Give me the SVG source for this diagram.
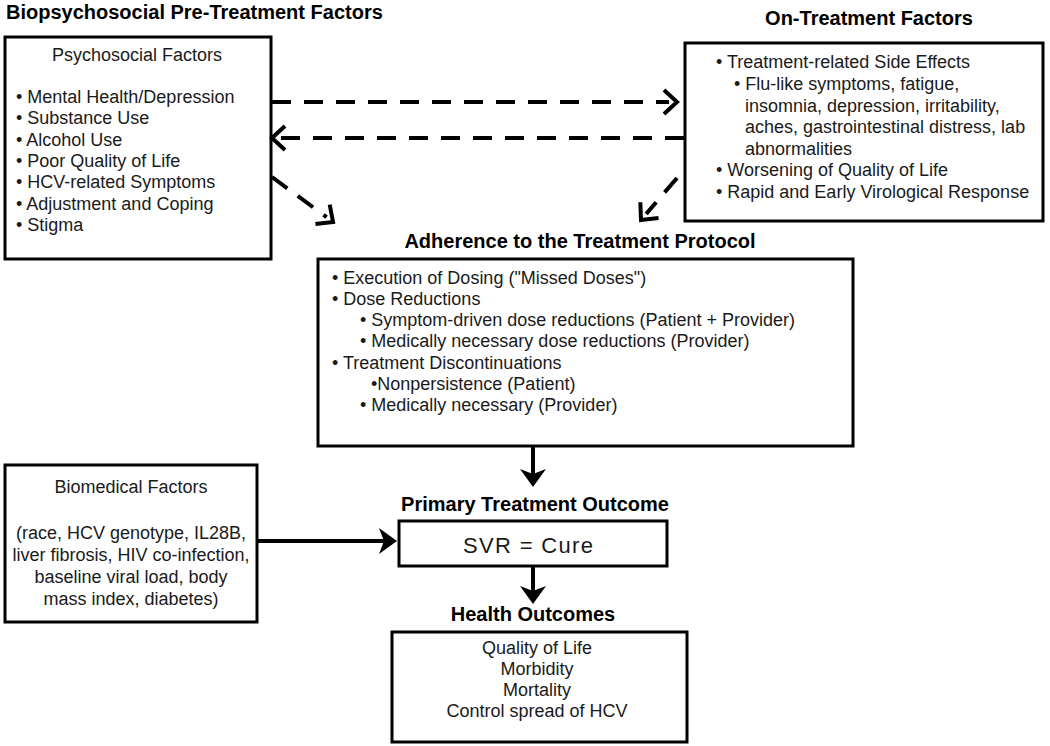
<svg xmlns="http://www.w3.org/2000/svg" width="1050" height="746" viewBox="0 0 1050 746">
<style>
.box{fill:#fff;stroke:#000;stroke-width:3}
.t{font-family:"Liberation Sans",Arial,sans-serif;font-size:18px;fill:#1a1a1a}
.h{font-family:"Liberation Sans",Arial,sans-serif;font-size:20px;font-weight:bold;fill:#000}
.c{text-anchor:middle}
.dash{stroke:#000;stroke-width:4;fill:none;stroke-dasharray:19 13}
.solid{stroke:#000;stroke-width:4;fill:none}
</style>
<defs>
<marker id="open" markerUnits="userSpaceOnUse" viewBox="-10 -16 22 32" markerWidth="22" markerHeight="32" refX="0" refY="0" orient="auto">
<path d="M-5,-12 L8,0 L-5,12" fill="none" stroke="#000" stroke-width="4"/>
</marker>
<marker id="solidhead" markerUnits="userSpaceOnUse" viewBox="-14 -16 26 32" markerWidth="26" markerHeight="32" refX="0" refY="0" orient="auto">
<path d="M-10,-13 L8,0 L-10,13 L-5,0 Z" fill="#000"/>
</marker>
</defs>
<rect width="1050" height="746" fill="#fff"/>

<text class="h" x="6" y="19">Biopsychosocial Pre-Treatment Factors</text>
<text class="h c" x="869" y="25">On-Treatment Factors</text>

<g id="psychosocial">
<rect class="box" x="5" y="37" width="266" height="222"/>
<text class="t c" x="137" y="61">Psychosocial Factors</text>
<text class="t" x="16" y="103">• Mental Health/Depression</text>
<text class="t" x="16" y="124">• Substance Use</text>
<text class="t" x="16" y="146">• Alcohol Use</text>
<text class="t" x="16" y="167">• Poor Quality of Life</text>
<text class="t" x="16" y="188">• HCV-related Symptoms</text>
<text class="t" x="16" y="210">• Adjustment and Coping</text>
<text class="t" x="16" y="231">• Stigma</text>
</g>

<g id="on-treatment">
<rect class="box" x="685" y="43" width="358" height="178"/>
<text class="t" x="716" y="68">• Treatment-related Side Effects</text>
<text class="t" x="734" y="90">• Flu-like symptoms, fatigue,</text>
<text class="t" x="745" y="112">insomnia, depression, irritability,</text>
<text class="t" x="745" y="133">aches, gastrointestinal distress, lab</text>
<text class="t" x="745" y="155">abnormalities</text>
<text class="t" x="716" y="176">• Worsening of Quality of Life</text>
<text class="t" x="716" y="198">• Rapid and Early Virological Response</text>
</g>

<g id="adherence">
<text class="h c" x="580" y="248">Adherence to the Treatment Protocol</text>
<rect class="box" x="318" y="259" width="535" height="187"/>
<text class="t" x="332" y="284">• Execution of Dosing ("Missed Doses")</text>
<text class="t" x="332" y="305">• Dose Reductions</text>
<text class="t" x="360" y="326">• Symptom-driven dose reductions (Patient + Provider)</text>
<text class="t" x="360" y="347">• Medically necessary dose reductions (Provider)</text>
<text class="t" x="332" y="369">• Treatment Discontinuations</text>
<text class="t" x="371" y="390">•Nonpersistence (Patient)</text>
<text class="t" x="360" y="411">• Medically necessary (Provider)</text>
</g>

<g id="biomedical">
<rect class="box" x="5" y="465" width="252" height="157"/>
<text class="t c" x="131" y="493">Biomedical Factors</text>
<text class="t c" x="131" y="539">(race, HCV genotype, IL28B,</text>
<text class="t c" x="131" y="561">liver fibrosis, HIV co-infection,</text>
<text class="t c" x="131" y="583">baseline viral load, body</text>
<text class="t c" x="131" y="605">mass index, diabetes)</text>
</g>

<g id="svr">
<text class="h c" x="535" y="511">Primary Treatment Outcome</text>
<rect class="box" x="399" y="521" width="268" height="45"/>
<text class="t c" x="528" y="553" style="font-size:22px" textLength="130">SVR = Cure</text>
</g>

<g id="health">
<text class="h c" x="533" y="621">Health Outcomes</text>
<rect class="box" x="392" y="632" width="295" height="110"/>
<text class="t c" x="537" y="654">Quality of Life</text>
<text class="t c" x="537" y="675">Morbidity</text>
<text class="t c" x="537" y="696">Mortality</text>
<text class="t c" x="537" y="717">Control spread of HCV</text>
</g>

<g id="connectors">
<line class="dash" x1="272" y1="102" x2="669" y2="102" marker-end="url(#open)"/>
<line class="dash" x1="684" y1="138" x2="280" y2="138" marker-end="url(#open)"/>
<line class="dash" x1="272" y1="177" x2="326.6" y2="217.2" marker-end="url(#open)"/>
<line class="dash" x1="677" y1="178" x2="646.2" y2="213.9" marker-end="url(#open)"/>
<line class="solid" x1="533" y1="446" x2="533" y2="479" marker-end="url(#solidhead)"/>
<line class="solid" x1="257" y1="541" x2="389" y2="541" marker-end="url(#solidhead)"/>
<line class="solid" x1="533" y1="566" x2="533" y2="596" marker-end="url(#solidhead)"/>
</g>
</svg>
